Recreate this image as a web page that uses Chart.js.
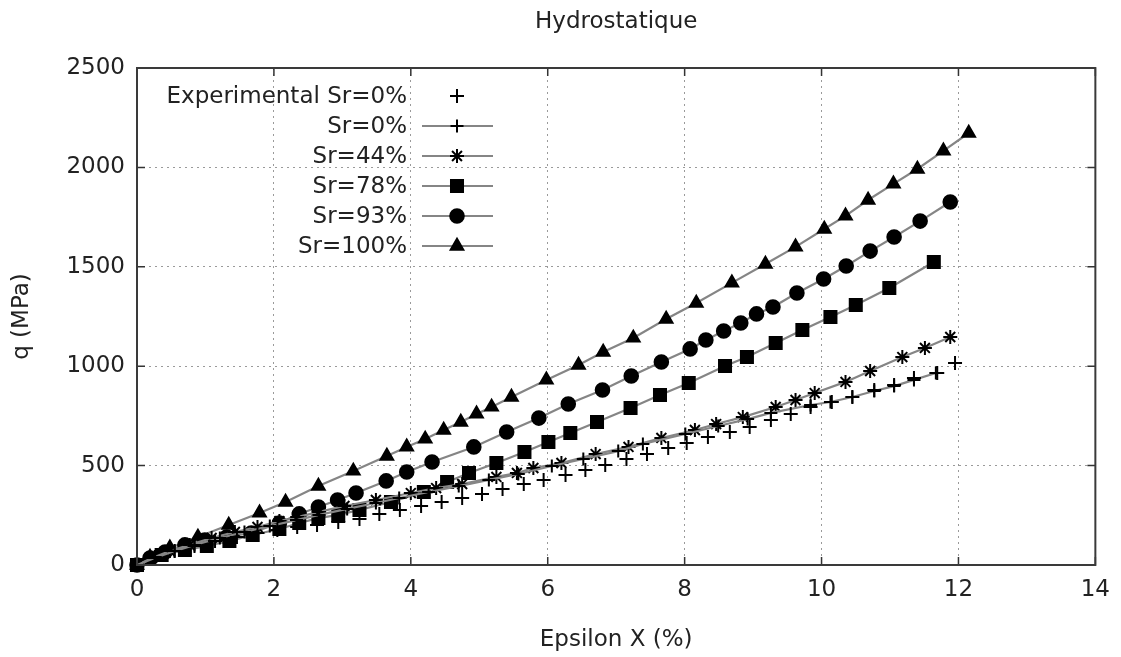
<!DOCTYPE html>
<html>
<head>
<meta charset="utf-8">
<script src="https://cdn.jsdelivr.net/npm/chart.js@4.4.0/dist/chart.umd.min.js"></script>
<style>
  html, body { margin: 0; padding: 0; background: #fff; }
  #box { width: 1121px; height: 657px; }
</style>
</head>
<body>
<div id="box"><canvas id="graficoHydro"></canvas></div>
<script>
// valeurs (Epsilon X en %, q en MPa)
const epsExp = [0, 0.26, 0.55, 0.84, 1.14, 1.46, 1.76, 2.05, 2.34, 2.63, 2.94, 3.25, 3.54, 3.84, 4.15, 4.45, 4.75, 5.04, 5.34, 5.65, 5.94, 6.26, 6.55, 6.84, 7.15, 7.45, 7.76, 8.03, 8.34, 8.66, 8.95, 9.26, 9.55, 9.84, 10.15, 10.45, 10.77, 11.06, 11.35, 11.69, 11.95];
const qExp   = [0, 40, 70, 96, 121, 141, 161, 176, 191, 201, 216, 231, 257, 277, 297, 317, 337, 357, 382, 407, 428, 453, 478, 503, 533, 558, 589, 614, 644, 669, 694, 729, 760, 795, 820, 845, 880, 905, 941, 966, 1016];

const eps0 = [0, 0.26, 0.55, 0.84, 1.21, 1.57, 1.94, 2.33, 2.66, 3.07, 3.49, 3.83, 4.26, 4.70, 5.14, 5.57, 6.06, 6.52, 7.03, 7.39, 8.01, 8.49, 8.92, 9.26, 9.84, 10.13, 10.45, 10.77, 11.06, 11.35, 11.67];
const q0   = [0, 35, 70, 101, 136, 166, 196, 226, 252, 282, 312, 337, 367, 397, 428, 458, 498, 533, 573, 609, 659, 699, 734, 765, 805, 820, 845, 875, 900, 931, 966];

const eps44 = [0, 0.22, 0.48, 0.77, 1.09, 1.43, 1.76, 2.08, 2.34, 2.66, 3.03, 3.49, 4.00, 4.37, 4.75, 5.25, 5.55, 5.79, 6.20, 6.70, 7.18, 7.66, 8.15, 8.46, 8.85, 9.33, 9.62, 9.90, 10.35, 10.71, 11.18, 11.51, 11.88];
const q44   = [0, 35, 70, 101, 136, 166, 191, 221, 241, 267, 297, 327, 362, 387, 407, 443, 463, 488, 513, 558, 594, 639, 679, 709, 744, 795, 830, 865, 921, 976, 1046, 1092, 1147];

const eps78 = [0, 0.36, 0.70, 1.02, 1.35, 1.69, 2.08, 2.37, 2.65, 2.94, 3.25, 3.71, 4.19, 4.53, 4.85, 5.25, 5.66, 6.01, 6.33, 6.72, 7.21, 7.64, 8.06, 8.59, 8.91, 9.33, 9.72, 10.13, 10.50, 10.99, 11.64];
const q78   = [0, 50, 75, 96, 121, 151, 181, 211, 236, 252, 277, 317, 367, 418, 463, 513, 568, 619, 664, 719, 790, 855, 916, 1001, 1046, 1117, 1182, 1247, 1308, 1393, 1524];

const eps93 = [0, 0.19, 0.41, 0.70, 0.99, 1.31, 1.67, 2.08, 2.37, 2.65, 2.93, 3.20, 3.64, 3.94, 4.31, 4.92, 5.40, 5.87, 6.30, 6.80, 7.22, 7.66, 8.08, 8.31, 8.57, 8.82, 9.05, 9.29, 9.64, 10.03, 10.36, 10.71, 11.06, 11.44, 11.88];
const q93   = [0, 35, 65, 101, 126, 141, 161, 211, 257, 292, 327, 362, 423, 468, 518, 594, 669, 739, 810, 880, 951, 1021, 1087, 1132, 1177, 1217, 1263, 1298, 1368, 1439, 1504, 1579, 1650, 1730, 1826];

const eps100 = [0, 0.19, 0.48, 0.89, 1.34, 1.79, 2.17, 2.65, 3.16, 3.65, 3.94, 4.21, 4.48, 4.73, 4.96, 5.18, 5.47, 5.98, 6.45, 6.81, 7.25, 7.73, 8.17, 8.69, 9.18, 9.62, 10.04, 10.35, 10.68, 11.05, 11.40, 11.78, 12.15];
const q100   = [0, 40, 86, 141, 201, 262, 317, 397, 473, 548, 594, 634, 679, 719, 760, 795, 845, 931, 1006, 1071, 1142, 1237, 1318, 1419, 1514, 1600, 1690, 1756, 1836, 1917, 1992, 2083, 2173];

const xTicks = [0, 2, 4, 6, 8, 10, 12, 14];
const yTicks = [0, 500, 1000, 1500, 2000, 2500];

const titre = 'Hydrostatique';
const police = '"DejaVu Sans", sans-serif';
const taille = 23;

function points(xs, ys) {
  return xs.map((x, i) => ({ x: x, y: ys[i] }));
}

function serie(label, xs, ys, style, rayon, ligne) {
  return {
    label: label,
    data: points(xs, ys),
    showLine: ligne,
    borderColor: '#858585',
    borderWidth: 2.2,
    pointStyle: style,
    pointRadius: rayon,
    pointBorderWidth: 2,
    pointBorderColor: '#000',
    pointBackgroundColor: '#000',
    clip: false
  };
}

// titre centre sur la zone du graphique (comme gnuplot)
const titreCentre = {
  id: 'titreCentre',
  afterDraw(chart) {
    const ctx = chart.ctx;
    const a = chart.chartArea;
    ctx.save();
    ctx.font = taille + 'px ' + police;
    ctx.fillStyle = '#222';
    ctx.textAlign = 'center';
    ctx.textBaseline = 'middle';
    ctx.fillText(titre, (a.left + a.right) / 2, 22);
    ctx.restore();
  }
};

// legende facon gnuplot : texte a droite, echantillon a gauche
const legendeGnuplot = {
  id: 'legendeGnuplot',
  afterDatasetsDraw(chart) {
    const ctx = chart.ctx;
    ctx.save();
    ctx.font = taille + 'px ' + police;
    ctx.textAlign = 'right';
    ctx.textBaseline = 'middle';
    chart.data.datasets.forEach((ds, i) => {
      const y = 96 + i * 30;
      ctx.fillStyle = '#222';
      ctx.fillText(ds.label, 407, y + 1);
      if (ds.showLine) {
        ctx.strokeStyle = ds.borderColor;
        ctx.lineWidth = ds.borderWidth;
        ctx.beginPath();
        ctx.moveTo(422, y);
        ctx.lineTo(493, y);
        ctx.stroke();
      }
      ctx.fillStyle = '#000';
      ctx.strokeStyle = '#000';
      ctx.lineWidth = ds.pointBorderWidth;
      Chart.helpers.drawPoint(ctx, {
        pointStyle: ds.pointStyle,
        radius: ds.pointRadius,
        borderWidth: ds.pointBorderWidth,
        rotation: 0
      }, 457, y);
    });
    ctx.restore();
  }
};

// cadre complet et graduations vers l'interieur
const cadre = {
  id: 'cadre',
  afterDraw(chart) {
    const ctx = chart.ctx;
    const a = chart.chartArea;
    const sx = chart.scales.x;
    const sy = chart.scales.y;
    ctx.save();
    ctx.strokeStyle = '#333';
    ctx.lineWidth = 1.5;
    ctx.beginPath();
    xTicks.forEach(t => {
      const px = sx.getPixelForValue(t);
      ctx.moveTo(px, a.bottom); ctx.lineTo(px, a.bottom - 8);
      ctx.moveTo(px, a.top); ctx.lineTo(px, a.top + 8);
    });
    yTicks.forEach(t => {
      const py = sy.getPixelForValue(t);
      ctx.moveTo(a.left, py); ctx.lineTo(a.left + 8, py);
      ctx.moveTo(a.right, py); ctx.lineTo(a.right - 8, py);
    });
    ctx.stroke();
    ctx.lineWidth = 2;
    ctx.strokeStyle = '#3a3a3a';
    ctx.strokeRect(a.left, a.top, a.right - a.left, a.bottom - a.top);
    ctx.restore();
  }
};

const graficoHydro = new Chart(document.querySelector('#graficoHydro'), {
  type: 'scatter',
  data: {
    datasets: [
      serie('Experimental Sr=0%', epsExp, qExp, 'cross', 7, false),
      serie('Sr=0%', eps0, q0, 'cross', 6.5, true),
      serie('Sr=44%', eps44, q44, 'star', 7, true),
      serie('Sr=78%', eps78, q78, 'rect', 8.5, true),
      serie('Sr=93%', eps93, q93, 'circle', 6.8, true),
      serie('Sr=100%', eps100, q100, 'triangle', 7.3, true)
    ]
  },
  options: {
    responsive: true,
    maintainAspectRatio: false,
    animation: false,
    layout: { padding: { left: 0, right: 22, top: 68, bottom: 0 } },
    plugins: {
      legend: { display: false },
      tooltip: { enabled: false },
      title: { display: false }
    },
    scales: {
      x: {
        type: 'linear',
        min: 0,
        max: 14,
        afterFit: s => { s.height = 92; },
        afterBuildTicks: s => { s.ticks = xTicks.map(v => ({ value: v })); },
        ticks: { color: '#222', padding: 11, font: { family: police, size: taille }, callback: v => String(v) },
        grid: { color: '#9a9a9a', lineWidth: 1, drawTicks: false },
        border: { display: false, dash: [2, 4] },
        title: {
          display: true,
          text: 'Epsilon X (%)',
          color: '#222',
          font: { family: police, size: taille },
          padding: { top: 0, bottom: 3 }
        }
      },
      y: {
        type: 'linear',
        min: 0,
        max: 2500,
        afterFit: s => { s.width = 137; },
        afterBuildTicks: s => { s.ticks = yTicks.map(v => ({ value: v })); },
        ticks: { color: '#222', padding: 12, font: { family: police, size: taille }, callback: v => String(v) },
        grid: { color: '#9a9a9a', lineWidth: 1, drawTicks: false },
        border: { display: false, dash: [2, 4] },
        title: {
          display: true,
          text: 'q (MPa)',
          color: '#222',
          font: { family: police, size: taille },
          padding: { top: 8, bottom: 0 }
        }
      }
    }
  },
  plugins: [legendeGnuplot, cadre, titreCentre]
});
</script>
</body>
</html>
